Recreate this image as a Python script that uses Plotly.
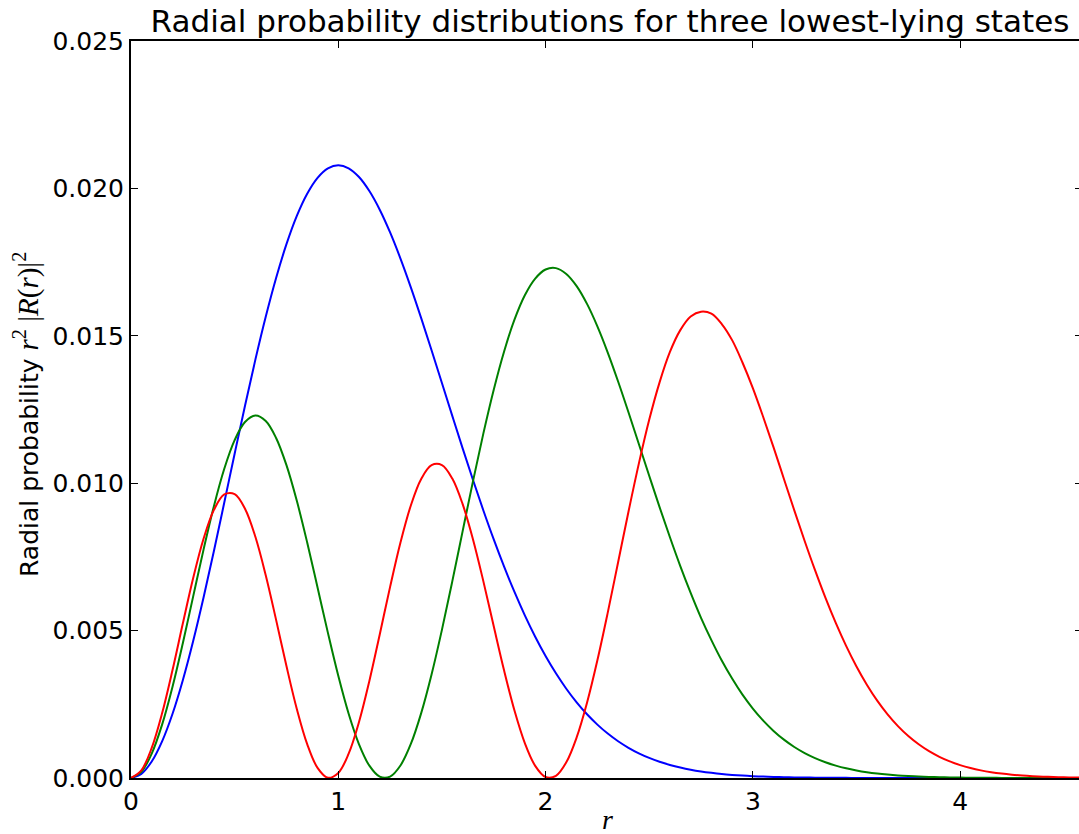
import plotly.graph_objects as go

# radial coordinate samples (uniform 0.05 steps)
r = [0.00, 0.05, 0.10, 0.15, 0.20, 0.25, 0.30, 0.35, 0.40, 0.45, 0.50, 0.55, 0.60, 0.65, 0.70,
     0.75, 0.80, 0.85, 0.90, 0.95, 1.00, 1.05, 1.10, 1.15, 1.20, 1.25, 1.30, 1.35, 1.40, 1.45,
     1.50, 1.55, 1.60, 1.65, 1.70, 1.75, 1.80, 1.85, 1.90, 1.95, 2.00, 2.05, 2.10, 2.15, 2.20,
     2.25, 2.30, 2.35, 2.40, 2.45, 2.50, 2.55, 2.60, 2.65, 2.70, 2.75, 2.80, 2.85, 2.90, 2.95,
     3.00, 3.05, 3.10, 3.15, 3.20, 3.25, 3.30, 3.35, 3.40, 3.45, 3.50, 3.55, 3.60, 3.65, 3.70,
     3.75, 3.80, 3.85, 3.90, 3.95, 4.00, 4.05, 4.10, 4.15, 4.20, 4.25, 4.30, 4.35, 4.40, 4.45,
     4.50, 4.55, 4.60]

# ground state (blue)
p_blue = [0, 0.000141, 0.000559, 0.001243, 0.002171, 0.003317, 0.004647, 0.006123, 0.007703,
          0.009344, 0.011001, 0.012630, 0.014191, 0.015645, 0.016961, 0.018108, 0.019067,
          0.019820, 0.020359, 0.020680, 0.020785, 0.020683, 0.020386, 0.019910, 0.019277,
          0.018505, 0.017619, 0.016643, 0.015599, 0.014510, 0.013399, 0.012283, 0.011181,
          0.010108, 0.009075, 0.008093, 0.007169, 0.006310, 0.005517, 0.004793, 0.004139,
          0.003552, 0.003029, 0.002567, 0.002162, 0.001811, 0.001507, 0.001247, 0.001025,
          0.000838, 0.000682, 0.000551, 0.000443, 0.000354, 0.000281, 0.000222, 0.000175,
          0.000136, 0.000106, 0.0000817, 0.0000628,
          0.0000479, 0.0000364, 0.0000275, 0.0000207, 0.0000154, 0.0000115, 0.0000085,
          0.0000062, 0.0000046, 0.0000033, 0.0000024, 0.0000017, 0.0000012, 0.0000009,
          0.0000006, 0.0000004, 0.0000003, 0.0000002, 0.00000015, 0.0000001, 0.00000007,
          0.00000004, 0.00000003, 0.00000002, 0.00000001, 0.00000001, 0, 0, 0, 0, 0, 0]

# first excited state (green)
p_green = [0, 0.000211, 0.000828, 0.001809, 0.003086, 0.004570, 0.006160, 0.007747, 0.009222,
           0.010488, 0.011460, 0.012075, 0.012296, 0.012111, 0.011535, 0.010611, 0.009402,
           0.007988, 0.006463, 0.004922, 0.003465, 0.002179, 0.001143, 0.000418, 0.0000463,
           0.0000482, 0.000424, 0.001154, 0.002201, 0.003512, 0.005025, 0.006670, 0.008376,
           0.010072, 0.011691, 0.013173, 0.014470, 0.015548, 0.016377, 0.016942, 0.017249,
           0.017296, 0.017099, 0.016686, 0.016082, 0.015321, 0.014432, 0.013451, 0.012408,
           0.011331, 0.010253, 0.009188, 0.008166, 0.007188, 0.006279, 0.005434, 0.004677,
           0.003985, 0.003373, 0.002826, 0.002354,
           0.001946, 0.001598, 0.001301, 0.001052, 0.000845, 0.000675, 0.000534, 0.000421,
           0.000329, 0.000256, 0.000197, 0.000151, 0.000115, 0.0000868, 0.0000653, 0.0000488,
           0.0000362, 0.0000267, 0.0000196, 0.0000143, 0.0000103, 0.0000075, 0.0000053,
           0.0000038, 0.0000027, 0.0000019, 0.0000013, 0.0000009, 0.0000006, 0.0000004,
           0.0000003, 0.0000002]

# second excited state (red)
p_red = [0, 0.000262, 0.001021, 0.002193, 0.003652, 0.005238, 0.006781, 0.008114, 0.009094,
         0.009618, 0.009631, 0.009134, 0.008182, 0.006879, 0.005364, 0.003796, 0.002341,
         0.001149, 0.000344, 0.0000075, 0.000173, 0.000825, 0.001899, 0.003291, 0.004869,
         0.006484, 0.007987, 0.009244, 0.010143, 0.010611, 0.010614, 0.010158, 0.009290,
         0.008092, 0.006670, 0.005145, 0.003643, 0.002288, 0.001183, 0.000413, 0.0000345,
         0.0000752, 0.000532, 0.001376, 0.002553, 0.003992, 0.005610, 0.007320, 0.009032,
         0.010664, 0.012149, 0.013421, 0.014451, 0.015192, 0.015654, 0.015817, 0.015749,
         0.015400, 0.014853, 0.014094, 0.013224,
         0.012245, 0.011216, 0.010143, 0.009079, 0.008041, 0.007050, 0.006119, 0.005262,
         0.004482, 0.003783, 0.003165, 0.002625, 0.002159, 0.001761, 0.001424, 0.001143,
         0.000910, 0.000719, 0.000563, 0.000438, 0.000338, 0.000259, 0.000197, 0.000149,
         0.000112, 0.0000833, 0.0000616, 0.0000453, 0.0000330, 0.0000239, 0.0000172, 0.0000123]

x_ticks = [0, 1, 2, 3, 4]
y_ticks = [0.000, 0.005, 0.010, 0.015, 0.020, 0.025]

FONT = "DejaVu Sans"

fig = go.Figure()
for ys, col in [(p_blue, "#0000ff"), (p_green, "#008000"), (p_red, "#ff0000")]:
    fig.add_trace(go.Scatter(x=r, y=ys, mode="lines",
                             line=dict(color=col, width=2, shape="spline", smoothing=1),
                             showlegend=False, hoverinfo="skip"))
# trace on the right-hand axis so its inside ticks are drawn
fig.add_trace(go.Scatter(x=[None], y=[None], yaxis="y2", mode="lines",
                         showlegend=False, hoverinfo="skip"))

fig.update_layout(
    width=1079, height=834,
    margin=dict(l=131, r=0, t=41, b=56),
    paper_bgcolor="white", plot_bgcolor="white",
    font=dict(family=FONT, size=25, color="black"),
    title=dict(text="Radial probability distributions for three lowest-lying states",
               font=dict(family=FONT, size=31, color="black"),
               x=(610 - 131) / 948, xref="paper", xanchor="center",
               y=1 - 21 / 834, yref="container", yanchor="middle"),
    xaxis=dict(range=[0, 4.5735], tickvals=x_ticks, ticktext=[str(v) for v in x_ticks],
               ticks="inside", ticklen=7, tickwidth=1, tickcolor="black",
               showline=True, linewidth=2, linecolor="black", mirror="ticks",
               showgrid=False, zeroline=False,
               tickfont=dict(family=FONT, size=25, color="black")),
    yaxis=dict(range=[0, 0.025], tickvals=y_ticks, tickformat=".3f",
               ticks="inside", ticklen=7, tickwidth=1, tickcolor="black",
               showline=True, linewidth=2, linecolor="black", mirror=False,
               showgrid=False, zeroline=False,
               tickfont=dict(family=FONT, size=25, color="black")),
    yaxis2=dict(range=[0, 0.025], tickvals=y_ticks, overlaying="y", side="right",
                ticks="inside", ticklen=4, tickwidth=1, tickcolor="black",
                showticklabels=False, showline=False, showgrid=False, zeroline=False),
    annotations=[
        dict(text="Radial probability <span style='font-family:Liberation Serif;font-size:29px'>"
                  "<i>r</i><sup>2</sup> |<i>R</i>(<i>r</i>)|<sup>2</sup></span>",
             xref="paper", yref="paper", x=(26 - 131) / 948, y=(778 - 415) / 737,
             xanchor="center", yanchor="middle", textangle=-90, showarrow=False,
             font=dict(family=FONT, size=25, color="black")),
        dict(text="<i>r</i>", xref="paper", yref="paper",
             x=(607 - 131) / 948, y=(778 - 819) / 737,
             xanchor="center", yanchor="middle", showarrow=False,
             font=dict(family="Liberation Serif", size=28, color="black")),
    ],
)

fig.write_html("out.html", config={"displayModeBar": False},
               post_script="document.body.style.margin='0';document.body.style.overflow='hidden';")
